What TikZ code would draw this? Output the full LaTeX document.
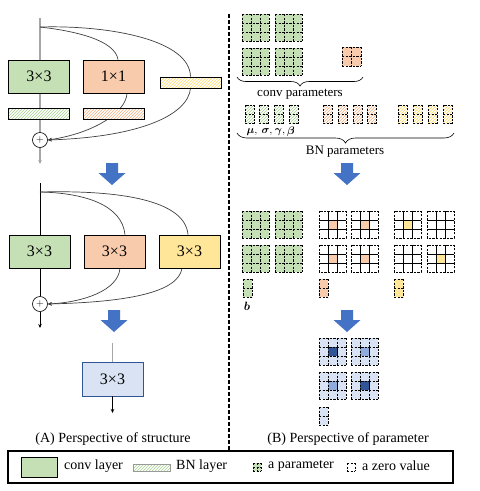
\documentclass[tikz,border=0pt]{standalone}
\usepackage{amsmath, amsfonts}
\usepackage{fontspec}
\setmainfont{Liberation Serif}
\usepackage{xcolor}
\usepackage{tikz}
\usetikzlibrary{arrows.meta,patterns,decorations.pathreplacing,backgrounds}

\definecolor{convgreen}{HTML}{C5E0B4}
\definecolor{convorange}{HTML}{F8CBAD}
\definecolor{convyellow}{HTML}{FFE699}
\definecolor{hatchgreen}{HTML}{A9D18E}
\definecolor{hatchorange}{HTML}{F4B183}
\definecolor{hatchyellow}{HTML}{FFD966}
\definecolor{lightblue}{HTML}{DAE3F3}
\definecolor{midblue}{HTML}{8FAADC}
\definecolor{deepblue}{HTML}{2F5597}
\definecolor{arrowblue}{HTML}{4472C4}

\tikzset{gridline/.style={line width=0.8pt,dash pattern=on 2.4pt off 1.2pt}}

% kernel of columns x rows cells
\newcommand{\kgrid}[6]{%
  \fill[#6] (#1,#2) rectangle ++(#3*#5,#4*#5);
  \foreach \i in {0,...,#3} \draw[gridline] (#1+\i*#5,#2) -- ++(0,#4*#5);
  \foreach \j in {0,...,#4} \draw[gridline] (#1,#2+\j*#5) -- ++(#3*#5,0);
}
% 3x3 kernel holding only a centre value
\newcommand{\wgrid}[3]{%
  \fill[white] (#1,#2) rectangle ++(27,27);
  \fill[#3] (#1+9,#2+9) rectangle ++(9,9);
  \draw[line width=0.8pt] (#1+9,#2) -- ++(0,27) (#1+18,#2) -- ++(0,27)
    (#1,#2+9) -- ++(27,0) (#1,#2+18) -- ++(27,0);
  \draw[gridline] (#1,#2) rectangle ++(27,27);
}
% one BN parameter
\newcommand{\bnpar}[3]{%
  \fill[pattern=north east lines,pattern color=#3] (#1,#2) rectangle ++(9,18);
  \draw[gridline] (#1,#2) rectangle ++(9,18) (#1,#2+9) -- ++(9,0);
}
\newcommand{\fatarrow}[2]{%
  \fill[arrowblue] (#1-6,#2) -- (#1+6,#2) -- (#1+6,#2+10) -- (#1+13.5,#2+10)
    -- (#1,#2+22) -- (#1-13.5,#2+10) -- (#1-6,#2+10) -- cycle;
}

\begin{document}
\begin{tikzpicture}[x=1pt,y=-1pt,
  conv node/.style={draw,line width=0.8pt,minimum width=61pt,minimum height=33pt,inner sep=0pt,font=\fontsize{16}{16}\selectfont},
  bn node/.style={draw,line width=0.7pt,minimum width=61pt,minimum height=11pt,inner sep=0pt,preaction={fill=white},pattern=north east lines},
  add node/.style={circle,draw,fill=white,line width=0.6pt,minimum size=15pt,inner sep=0pt,font=\fontsize{10}{10}\selectfont},
  skip line/.style={line width=0.7pt,draw=black!75},
  gray line/.style={line width=1.4pt,draw=black!35},
  end arrow/.style={-{Stealth[length=4pt,width=3.5pt]}},
  label text/.style={font=\fontsize{13}{15}\selectfont},
  caption text/.style={font=\fontsize{14}{16}\selectfont}]
  \path[use as bounding box] (0,0) rectangle (480,491);
  \begin{scope}[on background layer]
    \fill[white] (0,0) rectangle (480,491);
  \end{scope}

  % (A) training-time block
  \coordinate (t1) at (40,18);
  \coordinate (s1) at (40,27);
  \coordinate (o1) at (40,164);
  \node[conv node,fill=convgreen] (c1a) at (39,76.5) {3×3};
  \node[conv node,fill=convorange] (c1b) at (113.5,76.5) {1×1};
  \node[bn node,pattern color=hatchyellow] (b1c) at (190.5,82.5) {};
  \node[bn node,pattern color=hatchgreen] (b1a) at (39,113.5) {};
  \node[bn node,pattern color=hatchorange] (b1b) at (113.5,113.5) {};
  \node[add node] (add1) at (40,140) {$+$};
  \begin{scope}[on background layer]
    \draw[gray line] (t1) -- (add1);
    \draw[skip line] (s1) .. controls (75,31) and (115,40) .. ([xshift=4.5pt]c1b.north);
    \draw[skip line] (s1) .. controls (110,25) and (190,40) .. (b1c.north);
    \draw[skip line,end arrow] ([xshift=13.5pt]c1b.south) .. controls (126,112) and (95,133) .. (add1.east);
    \draw[skip line,end arrow] (b1c.south) .. controls (188,115) and (140,137) .. (add1.east);
  \end{scope}
  \draw[gray line,end arrow] (add1) -- (o1);

  \fatarrow{112}{163}

  % (A) after BN fusion
  \coordinate (t2) at (40,183);
  \coordinate (s2) at (40,192);
  \coordinate (o2) at (40,328);
  \node[conv node,fill=convgreen] (c2a) at (39.5,251.5) {3×3};
  \node[conv node,fill=convorange] (c2b) at (114.5,251.5) {3×3};
  \node[conv node,fill=convyellow] (c2c) at (189.5,251.5) {3×3};
  \node[add node] (add2) at (40,304) {$+$};
  \begin{scope}[on background layer]
    \draw[line width=0.8pt] (t2) -- (add2);
    \draw[skip line] (s2) .. controls (85,193) and (122,205) .. ([xshift=10.5pt]c2b.north);
    \draw[skip line] (s2) .. controls (120,190) and (185,200) .. ([xshift=-1.5pt]c2c.north);
    \draw[skip line,end arrow] ([xshift=5.5pt]c2b.south) .. controls (118,290) and (85,302) .. (add2.east);
    \draw[skip line,end arrow] ([xshift=-7.5pt]c2c.south) .. controls (178,292) and (130,302) .. (add2.east);
  \end{scope}
  \draw[line width=0.8pt,end arrow] (add2) -- (o2);

  \fatarrow{114}{310}

  % (A) inference block
  \coordinate (t3) at (112.5,343);
  \coordinate (o3) at (112.5,413);
  \node[conv node,fill=lightblue,draw=deepblue,minimum height=34pt] (c3) at (112.5,379) {3×3};
  \draw[gray line] (t3) -- (c3);
  \draw[line width=0.8pt,end arrow] (c3) -- (o3);

  \node[caption text] (capA) at (113,439) {(A) Perspective of structure};

  % divider
  \draw[line width=2pt,dash pattern=on 4pt off 2pt] (229,14) -- (229,450);

  % (B) conv and BN parameters
  \foreach \x in {242,275} \foreach \y in {14,48} {\kgrid{\x}{\y}{3}{3}{9}{convgreen}}
  \kgrid{342}{47}{2}{2}{9.5}{convorange}
  \draw[line width=0.6pt,decorate,decoration={brace,amplitude=9pt,mirror}] (237,77) -- (363,77);
  \node[label text] (convp) at (300,94) {conv parameters};

  \foreach \x in {245,259,274,289} {\bnpar{\x}{105}{hatchgreen}}
  \foreach \x in {323,338,353,367} {\bnpar{\x}{105}{hatchorange}}
  \foreach \x in {398,413,428,443} {\bnpar{\x}{105}{hatchyellow}}
  \node[font=\fontsize{11}{11}\selectfont] (mu) at (252,132) {$\boldsymbol{\mu},$};
  \node[font=\fontsize{11}{11}\selectfont] (sigma) at (267,132) {$\boldsymbol{\sigma},$};
  \node[font=\fontsize{11}{11}\selectfont] (gamma) at (280,132) {$\boldsymbol{\gamma},$};
  \node[font=\fontsize{11}{11}\selectfont] (beta) at (291,132) {$\boldsymbol{\beta}$};
  \draw[line width=0.6pt,decorate,decoration={brace,amplitude=10pt,mirror}] (237,133) -- (454,133);
  \node[label text] (bnp) at (345,152) {BN parameters};

  \fatarrow{347}{163}

  % (B) fused kernels
  \foreach \x in {242,275} \foreach \y in {211,245} {\kgrid{\x}{\y}{3}{3}{9}{convgreen}}
  \foreach \x in {319,351} \foreach \y in {211,245} {\wgrid{\x}{\y}{convorange}}
  \wgrid{394}{211}{convyellow}
  \wgrid{427}{211}{white}
  \wgrid{394}{245}{white}
  \wgrid{427}{245}{convyellow}
  \kgrid{243}{279}{1}{2}{9}{convgreen}
  \kgrid{319}{279}{1}{2}{9}{convorange}
  \kgrid{394}{279}{1}{2}{9}{convyellow}
  \node[font=\fontsize{12}{12}\selectfont] (bias) at (247,306) {$\boldsymbol{b}$};

  \fatarrow{347}{310}

  % (B) single 3x3 kernel
  \foreach \x/\y/\c in {319/338/deepblue,351/338/midblue,319/372/midblue,351/372/deepblue} {
    \kgrid{\x}{\y}{3}{3}{9}{lightblue}
    \fill[\c] (\x+9,\y+9) rectangle ++(9,9);
    \draw[gridline] (\x+9,\y+9) rectangle ++(9,9);
  }
  \kgrid{319}{407}{1}{2}{9}{lightblue}

  \node[caption text] (capB) at (348,439) {(B) Perspective of parameter};

  % legend
  \draw[line width=2pt] (8,451) rectangle (453,483);
  \node[draw,line width=0.8pt,fill=convgreen,minimum width=36pt,minimum height=20pt,inner sep=0pt] (lgconv) at (39,467) {};
  \node[caption text,anchor=west,inner sep=0pt] (lgconvt) at (64,466) {conv layer};
  \node[draw=black!40,line width=0.6pt,pattern=north east lines,pattern color=hatchgreen,minimum width=37pt,minimum height=7pt,inner sep=0pt] (lgbn) at (151.5,467.5) {};
  \node[caption text,anchor=west,inner sep=0pt] (lgbnt) at (176,466) {BN layer};
  \kgrid{253}{463}{2}{2}{4}{convgreen}
  \node[caption text,anchor=west,inner sep=0pt] (lgpart) at (268,466) {a parameter};
  \kgrid{347}{463}{1}{1}{8}{white}
  \node[caption text,anchor=west,inner sep=0pt] (lgzerot) at (362,466) {a zero value};
\end{tikzpicture}
\end{document}
